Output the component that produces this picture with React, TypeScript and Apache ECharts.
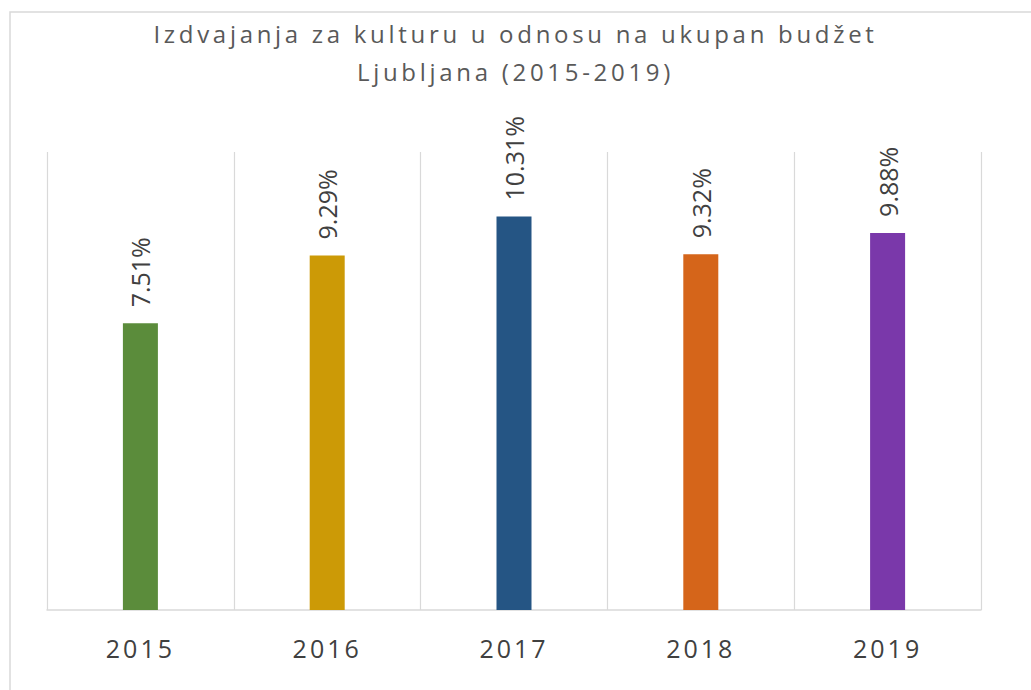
import React, { useEffect, useRef } from "react";
import * as echarts from "echarts";

const categories = ["2015", "2016", "2017", "2018", "2019"];
const values = [7.51, 9.29, 10.31, 9.32, 9.88];
const barColors = ["#5B8C3B", "#CC9A06", "#255584", "#D5651A", "#7A38AA"];
const titleLines = ["Izdvajanja za kulturu u odnosu na ukupan budžet", "Ljubljana (2015-2019)"];

export default function App() {
  const ref = useRef<HTMLDivElement>(null);
  useEffect(() => {
    if (!ref.current) return;
    const chart = echarts.init(ref.current, undefined, { renderer: "svg" });
    chart.setOption({
      animation: false,
      backgroundColor: "#ffffff",
      title: {
        text: titleLines.join("\n"),
        left: "center",
        top: 9,
        textStyle: {
          fontFamily: "Open Sans",
          fontSize: 24,
          fontWeight: "normal",
          color: "#595959",
          lineHeight: 38,
        },
      },
      graphic: [
        {
          type: "rect",
          shape: { x: 10, y: 12, width: 1040, height: 700 },
          style: { fill: "none", stroke: "#d9d9d9", lineWidth: 1.5 },
          silent: true,
          z: -10,
        },
      ],
      grid: { left: 47, right: 50, top: 152, bottom: 80 },
      xAxis: {
        type: "category",
        data: categories,
        axisLine: { show: true, lineStyle: { color: "#d9d9d9", width: 1.5 } },
        axisTick: { show: false },
        splitLine: { show: true, lineStyle: { color: "#d9d9d9", width: 1.2 } },
        axisLabel: {
          fontFamily: "Open Sans",
          fontSize: 25,
          color: "#404040",
          margin: 25,
        },
      },
      yAxis: {
        type: "value",
        min: 0,
        max: 12,
        show: false,
        splitLine: { show: false },
      },
      series: [
        {
          type: "bar",
          data: values.map((v, i) => ({ value: v, itemStyle: { color: barColors[i] } })),
          barWidth: 35,
          label: {
            show: true,
            position: "top",
            rotate: 90,
            align: "left",
            verticalAlign: "middle",
            distance: 16,
            fontFamily: "Open Sans",
            fontSize: 25,
            color: "#404040",
            formatter: (p: any) => p.value.toFixed(2) + "%",
          },
        },
      ],
    });
    const applySpacing = () => {
      const texts = ref.current?.querySelectorAll("text") || [];
      texts.forEach((t: any) => {
        const s = t.textContent || "";
        if (titleLines.some((l) => s.includes(l))) {
          t.style.letterSpacing = "3.7px";
        } else if (categories.includes(s)) {
          t.style.letterSpacing = "3px";
        }
      });
    };
    applySpacing();
    return () => chart.dispose();
  }, []);
  return (
    <div
      ref={ref}
      style={{ position: "absolute", left: 0, top: 0, width: 1031, height: 690 }}
    />
  );
}
